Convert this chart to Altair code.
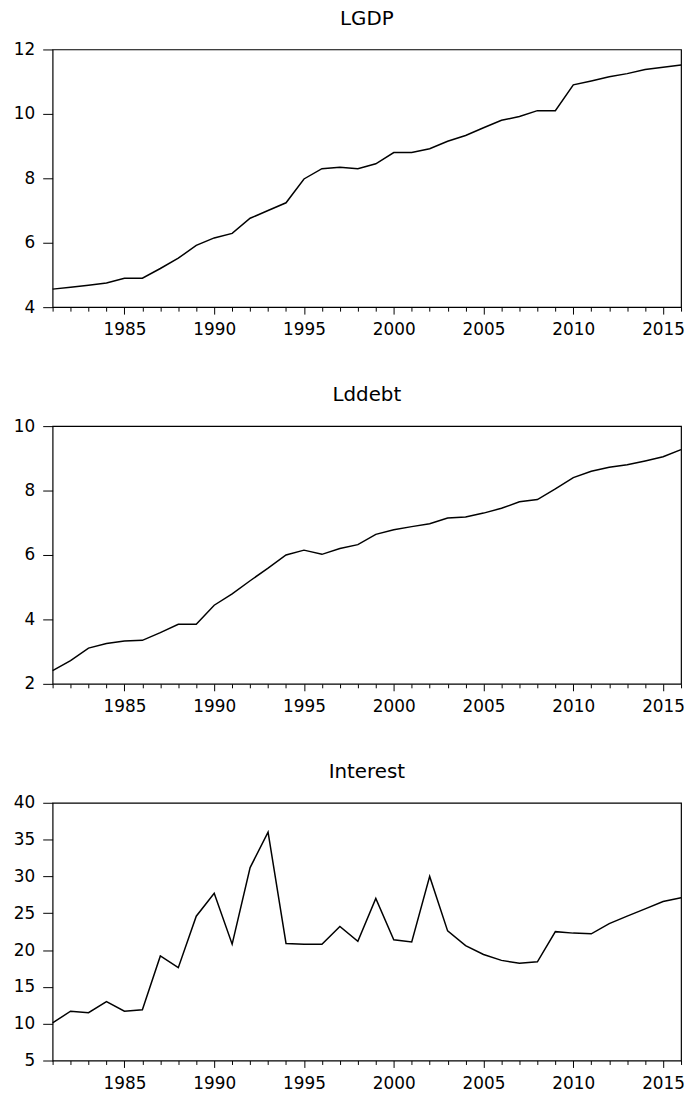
import altair as alt
import pandas as pd

years = list(range(1981, 2017))

lgdp = [4.56, 4.62, 4.68, 4.75, 4.90, 4.90, 5.20, 5.52, 5.92, 6.15,
        6.29, 6.76, 7.00, 7.24, 7.98, 8.30, 8.34, 8.30, 8.45, 8.80,
        8.80, 8.92, 9.15, 9.33, 9.57, 9.80, 9.92, 10.10, 10.10, 10.90,
        11.02, 11.15, 11.25, 11.38, 11.45, 11.52]

lddebt = [2.41, 2.72, 3.11, 3.25, 3.33, 3.35, 3.59, 3.85, 3.85, 4.44,
          4.79, 5.20, 5.59, 6.00, 6.15, 6.02, 6.20, 6.32, 6.64, 6.78,
          6.88, 6.97, 7.15, 7.18, 7.30, 7.45, 7.65, 7.72, 8.05, 8.40,
          8.60, 8.72, 8.80, 8.92, 9.05, 9.27]

interest = [10.1, 11.7, 11.5, 13.0, 11.7, 11.9, 19.2, 17.6, 24.6, 27.7,
            20.8, 31.2, 36.0, 20.9, 20.8, 20.8, 23.2, 21.2, 27.0, 21.4,
            21.1, 30.0, 22.6, 20.6, 19.4, 18.6, 18.2, 18.4, 22.5, 22.3,
            22.2, 23.6, 24.6, 25.6, 26.6, 27.1]

panels = [
    ("LGDP", lgdp, [4, 12], [4, 6, 8, 10, 12]),
    ("Lddebt", lddebt, [2, 10], [2, 4, 6, 8, 10]),
    ("Interest", interest, [5, 40], [5, 10, 15, 20, 25, 30, 35, 40]),
]

FONT = "DejaVu Sans"


def panel(title, values, domain, ticks):
    df = pd.DataFrame({"year": years, "value": values})
    return alt.Chart(df).mark_line(color="black", strokeWidth=1.5).encode(
        x=alt.X(
            "year:Q",
            scale=alt.Scale(domain=[1981, 2016], nice=False, zero=False),
            axis=alt.Axis(
                title=None,
                values=years,
                labelExpr="datum.value % 5 == 0 ? '' + datum.value : ''",
                grid=False,
                domain=False,
                tickColor="black",
                tickSize={"condition": {"test": "datum.value % 5 == 0", "value": 7}, "value": 4},
                labelFont=FONT,
                labelFontSize=17,
                labelColor="black",
                labelPadding=8,
                labelOverlap=False,
                labelFlush=False,
            ),
        ),
        y=alt.Y(
            "value:Q",
            scale=alt.Scale(domain=domain, nice=False, zero=False),
            axis=alt.Axis(
                title=None,
                values=ticks,
                grid=False,
                domain=False,
                tickColor="black",
                tickSize=10,
                labelFont=FONT,
                labelFontSize=17,
                labelColor="black",
                labelPadding=8,
            ),
        ),
    ).properties(
        width=634,
        height=260,
        title=alt.TitleParams(
            text=title,
            font=FONT,
            fontSize=20,
            fontWeight="normal",
            color="black",
            anchor="middle",
            offset=12,
        ),
    )


charts = [panel(*p) for p in panels]

chart = alt.vconcat(*charts, spacing=46).properties(
    padding={"left": 4, "top": -5, "right": 0, "bottom": 0},
    background="white",
).configure_view(
    stroke="black", strokeWidth=1.2
)

chart.save("out.html", embed_options={"renderer": "svg", "actions": False})
